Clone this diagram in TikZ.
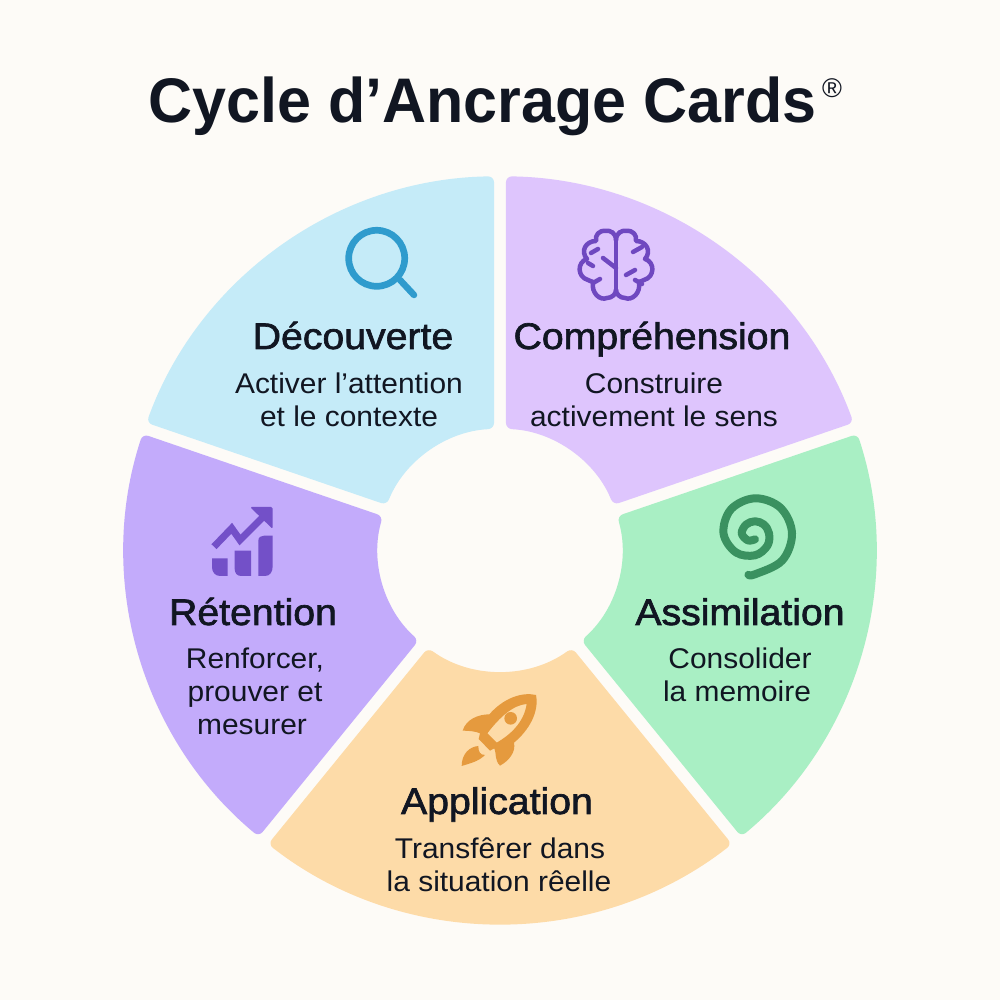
\documentclass[tikz,border=0pt]{standalone}
\usepackage{fontspec}
\setmainfont{Liberation Sans}
\newfontfamily\titlefont[FakeStretch=0.968]{Liberation Sans}
\newfontfamily\headfont[FakeBold=1.8,FakeStretch=1.06]{Liberation Sans}
\newfontfamily\bodyfont[FakeStretch=1.05]{Liberation Sans}
\definecolor{bgc}{HTML}{FDFBF7}
\definecolor{inkc}{HTML}{111622}
\definecolor{fillA}{HTML}{C5EBF8}
\definecolor{fillB}{HTML}{DEC5FD}
\definecolor{fillC}{HTML}{A9EFC4}
\definecolor{fillD}{HTML}{FDDBA8}
\definecolor{fillE}{HTML}{C3ABFB}
\definecolor{iconA}{HTML}{2F9BCD}
\definecolor{iconB}{HTML}{6F48C0}
\definecolor{iconC}{HTML}{3A9160}
\definecolor{iconD}{HTML}{E59A3E}
\definecolor{iconE}{HTML}{7350C8}
\tikzset{
  titletext/.style={font=\titlefont\fontsize{63}{70}\selectfont\bfseries,text=inkc,inner sep=0pt,anchor=base},
  headtext/.style={font=\headfont\fontsize{37}{40}\selectfont,text=inkc,inner sep=0pt,anchor=base},
  bodytext/.style={font=\bodyfont\fontsize{28.5}{30}\selectfont,text=inkc,inner sep=0pt,anchor=base},
  iconstroke/.style={line width=#1,line cap=round,line join=round},
}
\newcommand{\sector}[3]{%
  \fill[#3,rounded corners=6pt]
    (#1+0.91:376pt) arc[start angle=#1+0.91,end angle=#2-0.91,radius=376pt]
    -- (#2-2.8:122pt) arc[start angle=#2-2.8,end angle=#1+2.8,radius=122pt]
    -- cycle;}
\begin{document}
\begin{tikzpicture}[x=1pt,y=1pt]
\useasboundingbox (0,0) rectangle (1000,1000);
\fill[bgc] (0,0) rectangle (1000,1000);
\begin{scope}[shift={(500,450)},yscale=0.994]
  \sector{90}{161}{fillA}
  \sector{19}{90}{fillB}
  \sector{-51}{19}{fillC}
  \sector{-129}{-51}{fillD}
  \sector{161}{231}{fillE}
\end{scope}
\begin{scope}[x=1pt,y=-1pt,yshift=1000pt]
  % title
  \node[titletext] (title) at (482.5,123) {Cycle d’Ancrage Cards};
  \node[font=\fontsize{27}{30}\selectfont,text=inkc,inner sep=0pt] (reg) at (832,88) {®};
  % Découverte
  \node[headtext] (h1) at (353,349) {Découverte};
  \node[bodytext] (b1a) at (349,393.5) {Activer l’attention};
  \node[bodytext] (b1b) at (349,426.5) {et le contexte};
  % Compréhension
  \node[headtext] (h2) at (652,349) {Compréhension};
  \node[bodytext] (b2a) at (654,393.5) {Construire};
  \node[bodytext] (b2b) at (654,426.5) {activement le sens};
  % Assimilation
  \node[headtext] (h3) at (740,625) {Assimilation};
  \node[bodytext] (b3a) at (740,668.5) {Consolider};
  \node[bodytext] (b3b) at (737,701.5) {la memoire};
  % Application
  \node[headtext] (h4) at (497,814) {Application};
  \node[bodytext] (b4a) at (500,858.5) {Transfêrer dans};
  \node[bodytext] (b4b) at (499,891.5) {la situation rêelle};
  % Rétention
  \node[headtext] (h5) at (253,625) {Rétention};
  \node[bodytext] (b5a) at (255,668.5) {Renforcer,};
  \node[bodytext] (b5b) at (255,701.5) {prouver et};
  \node[bodytext] (b5c) at (252,734.5) {mesurer};
  % magnifier
  \draw[iconA,iconstroke=6.7pt] (376.7,258.3) circle[radius=28pt];
  \draw[iconA,iconstroke=6.5pt] (400,280) -- (414,295);
  % brain
  \begin{scope}[shift={(616pt,-265pt)}]
    \draw[iconB,iconstroke=4.5pt] (0,-25) -- (0,25);
    \foreach \s in {1,-1}{
      \draw[iconB,iconstroke=4.5pt,xscale=\s]
        (0,-25) .. controls (0,-32) and (-6,-35) .. (-10,-34)
        .. controls (-17,-35) and (-21,-30) .. (-20,-24)
        .. controls (-30,-24) and (-36,-14) .. (-29,-6)
        .. controls (-39,-3) and (-39,12) .. (-28,15)
        .. controls (-28,15) and (-26,16) .. (-23,17)
        .. controls (-25,28) and (-16,36) .. (-9,33)
        .. controls (-4,33) and (0,29) .. (0,25);
    }
    \draw[iconB,iconstroke=4.5pt] (-18,-16) -- (-25,-12);
    \draw[iconB,iconstroke=4.5pt] (-23,1) -- (-28,-2);
    \draw[iconB,iconstroke=4.5pt] (-16,14) -- (-23,18);
    \draw[iconB,iconstroke=4.5pt] (-13,-7) -- (0,3);
    \draw[iconB,iconstroke=4.5pt] (17,-13) -- (26,-18);
    \draw[iconB,iconstroke=4.5pt] (10,10) -- (19,5);
    \draw[iconB,iconstroke=4.5pt] (19,15) -- (26,19);
  \end{scope}
  % spiral
  \draw[iconC,iconstroke=8pt] plot[smooth,tension=0.6] coordinates {
    (755,539.3) (747.9,540.4) (741.7,533.3) (746.2,524.5) (755,521.3) (763.8,524.5)
    (769,533.3) (767.4,545.7) (755,555.3) (735.9,552.4) (723.5,533.3) (731,509.3)
    (755,498.3) (780.5,507.8) (792,533.3) (782.2,560.5) (755,574.3) (748.4,574.8)};
  % rocket
  \begin{scope}[shift={(450pt,-680pt)},x=0.3333pt,y=-0.3333pt]
    \fill[iconD,even odd rule]
      (258,45) .. controls (215,35) and (160,55) .. (118,103)
      .. controls (85,103) and (48,118) .. (38,152)
      .. controls (60,152) and (80,155) .. (90,160)
      -- (86,177) -- (120,212) -- (133,205)
      .. controls (140,222) and (133,240) .. (150,257)
      .. controls (178,242) and (198,215) .. (192,188)
      .. controls (238,150) and (268,95) .. (258,45) -- cycle
      (230,72) .. controls (190,75) and (150,110) .. (112,160)
      -- (140,188) .. controls (180,165) and (222,128) .. (230,72) -- cycle;
    \fill[iconD] (182,115) circle[radius=19];
    \fill[iconD]
      (85,198) .. controls (60,200) and (35,220) .. (35,258)
      .. controls (60,250) and (85,245) .. (105,225)
      .. controls (90,225) and (85,215) .. (85,198) -- cycle;
  \end{scope}
  % chart
  \draw[iconE,line width=7pt,line join=miter] (214,546.7) -- (231.7,528.3) -- (240,540) -- (265,515);
  \fill[iconE,rounded corners=1.5pt] (250,507) -- (272.7,507) -- (272.7,529) -- cycle;
  \fill[iconE] (212,558.3) -- (227.7,558.3) -- (227.7,576) -- (220,576) .. controls (215,576) and (212,572) .. (212,567) -- cycle;
  \fill[iconE] (234.7,550.7) -- (251,550.7) -- (251,576) -- (241,576) .. controls (237,576) and (234.7,573) .. (234.7,569) -- cycle;
  \fill[iconE] (258.3,576) -- (258.3,541) .. controls (258.3,537) and (261,535.7) .. (264,535.7) -- (272.7,535.7) -- (272.7,566) .. controls (272.7,572) and (270,576) .. (265,576) -- cycle;
\end{scope}
\end{tikzpicture}
\end{document}
